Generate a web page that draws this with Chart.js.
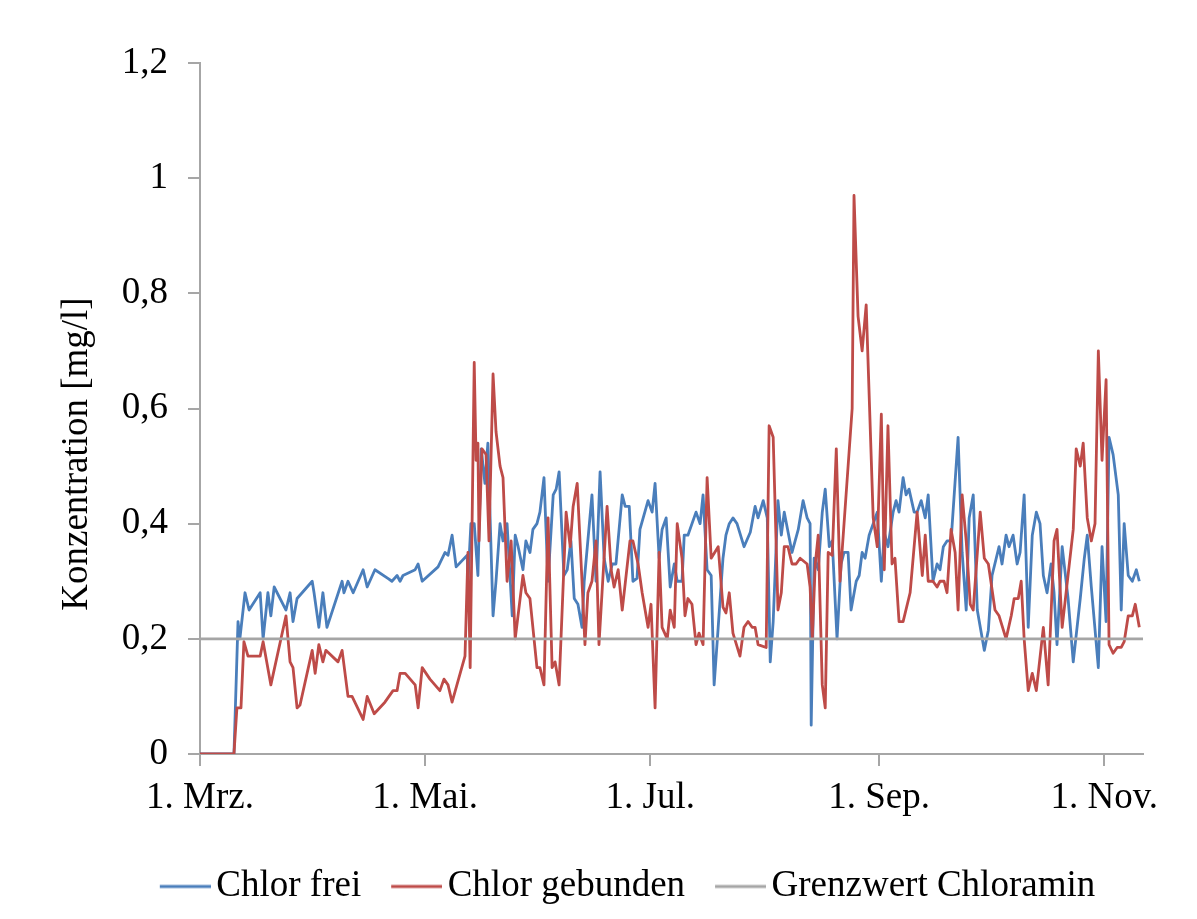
<!DOCTYPE html>
<html>
<head>
<meta charset="utf-8">
<title>Konzentration Chlor</title>
<script src="https://cdn.jsdelivr.net/npm/chart.js@4.4.1/dist/chart.umd.min.js"></script>
<style>
  html, body { margin: 0; padding: 0; background: #fff; }
  canvas { display: block; }
</style>
</head>
<body>
<canvas id="chlorChart" width="1197" height="919"></canvas>
<script>
// x = Tage ab 1. März
const tickDays = [0, 61, 122, 184, 245]
const tickLabels = ['1. Mrz.', '1. Mai.', '1. Jul.', '1. Sep.', '1. Nov.']
const lastDay = 255.5

// [Tag, mg/l]
const chlorFrei = [
  [0,0],[9.2,0],[10.3,0.23],[10.8,0.20],[12.2,0.28],[13.3,0.25],[16.3,0.28],[17.1,0.20],[18.4,0.28],[19.2,0.24],
  [20.1,0.29],[23.3,0.25],[24.4,0.28],[25.2,0.23],[26.3,0.27],[30.4,0.30],[30.9,0.28],[32.2,0.22],[33.3,0.28],[34.4,0.22],
  [38.5,0.30],[39.0,0.28],[40.1,0.30],[41.5,0.28],[44.2,0.32],[45.3,0.29],[47.4,0.32],[50.9,0.305],[52.0,0.30],[53.4,0.31],
  [54.2,0.30],[55.0,0.31],[58.3,0.32],[59.1,0.33],[60.2,0.30],[64.5,0.325],[66.4,0.35],[67.2,0.345],[68.3,0.38],[69.4,0.325],
  [72.4,0.345],[72.6,0.30],[73.4,0.40],[74.3,0.40],[75.3,0.31],[76.2,0.53],[77.2,0.47],[78.0,0.54],[79.4,0.24],[80.2,0.30],
  [81.3,0.40],[82.1,0.37],[83.2,0.40],[84.6,0.24],[85.4,0.38],[86.2,0.36],[87.5,0.32],[88.3,0.37],[89.4,0.35],[90.2,0.39],
  [91.3,0.40],[92.1,0.42],[93.2,0.48],[94.3,0.30],[95.7,0.45],[96.5,0.46],[97.3,0.49],[98.6,0.31],[99.5,0.32],[100.5,0.37],
  [101.4,0.27],[102.4,0.26],[103.5,0.22],[104.1,0.30],[106.2,0.45],[107.3,0.30],[108.4,0.49],[109.5,0.34],[110.6,0.30],[111.7,0.33],
  [112.7,0.33],[114.4,0.45],[115.2,0.43],[116.3,0.43],[117.3,0.30],[118.4,0.305],[119.2,0.39],[121.4,0.44],[122.5,0.42],[123.3,0.47],
  [124.4,0.34],[125.2,0.39],[126.3,0.41],[127.4,0.29],[128.5,0.33],[129.3,0.30],[130.6,0.30],[131.2,0.38],[132.2,0.38],[134.4,0.42],
  [135.5,0.40],[136.3,0.45],[137.4,0.32],[138.5,0.31],[139.3,0.12],[140.4,0.22],[141.7,0.34],[142.5,0.38],[143.4,0.40],[144.4,0.41],
  [145.5,0.40],[147.4,0.36],[149.1,0.385],[150.4,0.43],[151.2,0.41],[152.6,0.44],[153.7,0.41],[154.5,0.16],[155.3,0.23],[156.6,0.44],
  [157.5,0.38],[158.3,0.42],[160.4,0.35],[162.1,0.39],[163.4,0.44],[164.5,0.41],[165.3,0.40],[165.6,0.05],[166.4,0.34],[167.5,0.32],
  [168.6,0.42],[169.4,0.46],[170.5,0.36],[171.3,0.37],[172.6,0.20],[173.7,0.33],[174.5,0.35],[175.6,0.35],[176.4,0.25],[177.8,0.30],
  [178.6,0.31],[179.4,0.35],[180.2,0.34],[181.3,0.38],[182.4,0.40],[183.5,0.42],[184.6,0.30],[185.4,0.385],[186.4,0.36],[187.8,0.42],
  [188.6,0.44],[189.4,0.42],[190.5,0.48],[191.3,0.45],[192.1,0.46],[193.5,0.42],[194.3,0.42],[195.4,0.44],[196.5,0.41],[197.3,0.45],
  [198.6,0.30],[199.7,0.33],[200.5,0.32],[201.4,0.36],[202.4,0.37],[203.5,0.37],[205.4,0.55],[206.5,0.35],[207.6,0.25],[208.4,0.41],
  [209.5,0.45],[210.6,0.25],[212.5,0.18],[213.6,0.215],[214.6,0.31],[216.5,0.36],[217.3,0.33],[218.4,0.38],[219.2,0.36],[220.3,0.38],
  [221.4,0.33],[222.2,0.35],[223.3,0.45],[224.4,0.22],[225.5,0.38],[226.6,0.42],[227.6,0.40],[228.5,0.31],[229.5,0.28],[230.6,0.33],
  [231.4,0.28],[232.2,0.19],[233.6,0.36],[235.2,0.27],[236.6,0.16],[238.5,0.27],[239.6,0.34],[240.4,0.38],[241.5,0.29],[243.4,0.15],
  [244.4,0.36],[245.5,0.23],[246.3,0.55],[247.4,0.52],[248.8,0.45],[249.6,0.25],[250.4,0.40],[251.5,0.31],[252.6,0.30],[253.7,0.32],
  [254.5,0.30]
]

const chlorGebunden = [
  [0,0],[9.2,0],[10.0,0.08],[11.1,0.08],[11.9,0.195],[13.0,0.17],[16.3,0.17],[17.1,0.195],[19.2,0.12],[23.3,0.24],
  [24.4,0.16],[25.2,0.15],[26.3,0.08],[27.1,0.085],[30.4,0.18],[31.2,0.14],[32.2,0.19],[33.3,0.16],[34.1,0.18],[37.4,0.16],
  [38.5,0.18],[40.1,0.10],[41.2,0.10],[44.2,0.06],[45.3,0.10],[47.2,0.07],[50.1,0.09],[52.3,0.11],[53.4,0.11],[54.2,0.14],
  [55.6,0.14],[58.3,0.12],[59.1,0.08],[60.2,0.15],[62.3,0.13],[65.0,0.11],[66.1,0.13],[67.2,0.12],[68.3,0.09],[71.8,0.17],
  [72.6,0.35],[73.2,0.15],[74.3,0.68],[74.8,0.51],[75.3,0.54],[75.6,0.37],[76.4,0.53],[77.5,0.52],[78.3,0.37],[79.4,0.66],
  [80.2,0.56],[81.3,0.50],[82.1,0.48],[83.2,0.30],[84.3,0.37],[85.4,0.20],[87.5,0.31],[88.3,0.28],[89.4,0.27],[91.3,0.15],
  [92.1,0.15],[93.2,0.12],[94.3,0.41],[95.4,0.15],[96.2,0.16],[97.3,0.12],[99.2,0.42],[100.3,0.36],[101.1,0.43],[102.2,0.47],
  [103.5,0.30],[104.3,0.19],[105.1,0.28],[106.2,0.30],[107.3,0.37],[108.1,0.19],[109.2,0.31],[110.3,0.43],[111.4,0.32],[112.2,0.29],
  [113.3,0.32],[114.4,0.25],[116.5,0.37],[117.3,0.37],[118.7,0.33],[119.8,0.28],[121.4,0.22],[122.2,0.26],[123.3,0.08],[124.4,0.35],
  [125.2,0.22],[126.6,0.20],[127.4,0.25],[128.5,0.22],[129.3,0.40],[130.6,0.34],[131.4,0.24],[132.2,0.27],[133.3,0.26],[134.4,0.19],
  [135.2,0.21],[136.3,0.19],[137.4,0.48],[138.5,0.34],[140.4,0.36],[141.7,0.255],[142.5,0.245],[143.4,0.28],[144.4,0.21],[146.3,0.17],
  [147.4,0.22],[148.5,0.23],[149.6,0.22],[150.4,0.22],[151.2,0.19],[153.4,0.185],[154.2,0.57],[155.3,0.55],[156.6,0.25],[157.5,0.28],
  [158.3,0.36],[159.3,0.36],[160.4,0.33],[161.5,0.33],[162.6,0.34],[164.5,0.33],[165.3,0.29],[165.9,0.20],[166.7,0.33],[167.5,0.38],
  [168.6,0.12],[169.4,0.08],[170.2,0.35],[171.3,0.345],[172.4,0.53],[173.4,0.30],[176.7,0.60],[177.2,0.97],[178.3,0.76],[179.4,0.70],
  [180.5,0.78],[182.4,0.41],[183.5,0.36],[184.6,0.59],[185.4,0.32],[186.4,0.57],[187.5,0.33],[188.3,0.34],[189.4,0.23],[190.5,0.23],
  [192.4,0.28],[194.3,0.42],[195.7,0.31],[196.5,0.38],[197.3,0.30],[198.6,0.30],[199.7,0.29],[200.5,0.30],[201.6,0.30],[202.4,0.28],
  [203.5,0.39],[204.6,0.35],[205.4,0.25],[206.5,0.45],[207.6,0.37],[208.7,0.26],[209.5,0.25],[211.4,0.42],[212.5,0.34],[213.6,0.33],
  [215.4,0.25],[216.5,0.24],[218.4,0.20],[219.8,0.24],[220.6,0.27],[221.7,0.27],[222.5,0.30],[223.3,0.20],[224.4,0.11],[225.5,0.14],
  [226.6,0.11],[228.5,0.22],[229.8,0.12],[231.4,0.37],[232.2,0.39],[233.6,0.22],[236.6,0.39],[237.4,0.53],[238.5,0.50],[239.3,0.54],
  [240.4,0.41],[241.5,0.37],[242.5,0.40],[243.4,0.70],[244.4,0.51],[245.5,0.65],[246.3,0.19],[247.4,0.175],[248.5,0.185],[249.6,0.185],
  [250.4,0.195],[251.5,0.24],[252.6,0.24],[253.4,0.26],[254.5,0.22]
]

const grenzwert = 0.2

const blue = '#4a7ebb'
const red = '#be4b48'
const grey = '#a5a5a5'
const axisGrey = '#a6a6a6'

Chart.defaults.font.family = '"Liberation Serif", "Times New Roman", serif'
Chart.defaults.font.size = 37
Chart.defaults.color = '#000'

// short line with a small gap before the text, like in Excel
function legendLine(color) {
    const c = document.createElement('canvas')
    c.width = 62
    c.height = 6
    const g = c.getContext('2d')
    g.strokeStyle = color
    g.lineWidth = 2.8
    g.beginPath()
    g.moveTo(11, 3)
    g.lineTo(62, 3)
    g.stroke()
    return c
}

const yTitle = {
    id: 'yTitle',
    afterDraw(chart) {
        const c = chart.ctx
        c.save()
        c.translate(77, 454)
        c.rotate(-Math.PI / 2)
        c.font = '37px "Liberation Serif", serif'
        c.fillStyle = '#000'
        c.textAlign = 'center'
        c.textBaseline = 'middle'
        c.fillText('Konzentration [mg/l]', 0, 0)
        c.restore()
    }
}

const ctx = document.getElementById('chlorChart').getContext('2d')
new Chart(ctx, {
    type: 'line',
    data: {
        datasets: [
            { label: 'Chlor frei', data: chlorFrei, borderColor: blue, backgroundColor: blue, order: 3 },
            { label: 'Chlor gebunden', data: chlorGebunden, borderColor: red, backgroundColor: red, order: 2 },
            { label: 'Grenzwert Chloramin', data: [[0, grenzwert], [lastDay, grenzwert]], borderColor: grey, backgroundColor: grey, order: 1 }
        ]
    },
    options: {
        responsive: false,
        animation: false,
        elements: {
            point: { radius: 0, hoverRadius: 0 },
            line: { borderWidth: 2.8, tension: 0, borderJoinStyle: 'round' }
        },
        layout: { padding: { left: 114, right: 54, top: 63, bottom: 4 } },
        scales: {
            x: {
                type: 'linear',
                min: 0,
                max: lastDay,
                afterBuildTicks: scale => { scale.ticks = tickDays.map(v => ({ value: v })) },
                afterFit: scale => { scale.height = 82 },
                ticks: {
                    callback: v => tickLabels[tickDays.indexOf(v)],
                    padding: 10,
                    maxRotation: 0,
                    autoSkip: false
                },
                grid: { drawOnChartArea: false, tickLength: 12, color: axisGrey, lineWidth: 2 },
                border: { color: axisGrey, width: 2 }
            },
            y: {
                min: 0,
                max: 1.2,
                afterFit: scale => { scale.width = 86 },
                ticks: {
                    stepSize: 0.2,
                    padding: 20,
                    callback: v => String(Math.round(v * 10) / 10).replace('.', ',')
                },
                grid: { drawOnChartArea: false, tickLength: 12, color: axisGrey, lineWidth: 2 },
                border: { color: axisGrey, width: 2 }
            }
        },
        plugins: {
            tooltip: { enabled: false },
            legend: {
                position: 'bottom',
                labels: {
                    usePointStyle: true,
                    pointStyleWidth: 36,
                    padding: 32,
                    sort: (a, b) => a.datasetIndex - b.datasetIndex,
                    generateLabels: chart => Chart.defaults.plugins.legend.labels.generateLabels(chart)
                        .map(item => Object.assign(item, { pointStyle: legendLine(item.strokeStyle) }))
                }
            }
        }
    },
    plugins: [yTitle]
})
</script>
</body>
</html>
